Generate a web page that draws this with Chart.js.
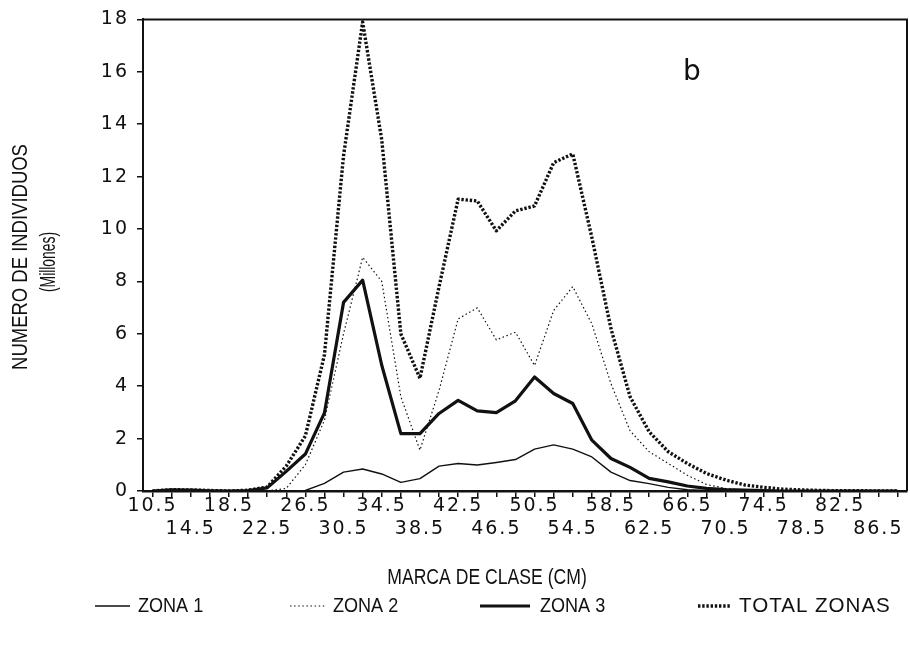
<!DOCTYPE html>
<html>
<head>
<meta charset="utf-8">
<script src="https://cdn.jsdelivr.net/npm/chart.js@4.4.1/dist/chart.umd.min.js"></script>
<style>
  html, body { margin: 0; padding: 0; background: #fff; }
  #wrap { position: relative; width: 910px; height: 645px; }
</style>
</head>
<body>
<div id="wrap"><canvas id="c" width="910" height="645"></canvas></div>
<script>
// Size classes (cm)
const classes = [10.5, 12.5, 14.5, 16.5, 18.5, 20.5, 22.5, 24.5, 26.5, 28.5,
                 30.5, 32.5, 34.5, 36.5, 38.5, 40.5, 42.5, 44.5, 46.5, 48.5,
                 50.5, 52.5, 54.5, 56.5, 58.5, 60.5, 62.5, 64.5, 66.5, 68.5,
                 70.5, 72.5, 74.5, 76.5, 78.5, 80.5, 82.5, 84.5, 86.5, 88.5];

// Number of individuals (millions) per class
const zona1 = [0, 0, 0, 0, 0, 0, 0, 0, 0.02, 0.29,
               0.72, 0.84, 0.65, 0.33, 0.47, 0.95, 1.05, 0.99, 1.09, 1.2,
               1.6, 1.76, 1.6, 1.3, 0.72, 0.4, 0.28, 0.14, 0.05, 0.02,
               0, 0, 0, 0, 0, 0, 0, 0, 0, 0];
const zona2 = [0, 0, 0, 0, 0, 0, 0, 0.1, 1.0, 2.7,
               6.0, 8.92, 8.0, 3.6, 1.56, 3.84, 6.57, 6.99, 5.77, 6.06,
               4.79, 6.89, 7.8, 6.38, 4.1, 2.3, 1.5, 1.05, 0.6, 0.25,
               0.1, 0.04, 0, 0, 0, 0, 0, 0, 0, 0];
const zona3 = [0, 0.04, 0.03, 0.01, 0, 0.02, 0.12, 0.75, 1.41, 2.98,
               7.2, 8.05, 4.8, 2.19, 2.19, 2.96, 3.46, 3.06, 2.99, 3.44,
               4.35, 3.72, 3.34, 1.94, 1.24, 0.9, 0.48, 0.35, 0.19, 0.1,
               0.05, 0.03, 0.02, 0, 0, 0, 0, 0, 0, 0];
const totalZonas = [0, 0.05, 0.04, 0.02, 0, 0.03, 0.15, 0.95, 2.1, 5.2,
                    12.8, 17.9, 13.4, 6.0, 4.3, 7.8, 11.14, 11.07, 9.93, 10.69,
                    10.88, 12.53, 12.87, 9.68, 6.2, 3.6, 2.26, 1.5, 1.05, 0.67,
                    0.42, 0.23, 0.14, 0.07, 0.04, 0.02, 0.01, 0.01, 0, 0];

const yTicks = [0, 2, 4, 6, 8, 10, 12, 14, 16, 18];

const seriesNames = ['ZONA 1', 'ZONA 2', 'ZONA 3', 'TOTAL ZONAS'];
const INK = '#111';

const styles = [
  { borderWidth: 1.4, borderDash: [] },
  { borderWidth: 1.2, borderDash: [1.5, 2.6] },
  { borderWidth: 3.2, borderDash: [] },
  { borderWidth: 3.4, borderDash: [2.4, 1.8] }
];

const seriesData = [zona1, zona2, zona3, totalZonas];

const datasets = seriesData.map((d, i) => ({
  label: seriesNames[i],
  data: d,
  borderColor: INK,
  backgroundColor: INK,
  borderWidth: styles[i].borderWidth,
  borderDash: styles[i].borderDash,
  borderCapStyle: 'butt',
  borderJoinStyle: 'round',
  pointRadius: 0,
  tension: 0,
  fill: false
}));

const TITLE_FONT = '"Liberation Sans", Arial, sans-serif';

// Draws text with a horizontal squeeze k and optional letter spacing
function condensedText(ctx, text, x, y, size, k, spacing, align) {
  ctx.save();
  ctx.font = size + 'px ' + TITLE_FONT;
  ctx.textBaseline = 'middle';
  ctx.letterSpacing = (spacing || 0) + 'px';
  ctx.translate(x, y);
  ctx.scale(k, 1);
  ctx.textAlign = align || 'center';
  ctx.fillStyle = INK;
  ctx.fillText(text, 0, 0);
  ctx.restore();
}

const decor = {
  id: 'decor',
  beforeDraw(chart) {
    chart.ctx.letterSpacing = '2px';
  },
  beforeDatasetsDraw(chart) {
    chart.ctx.letterSpacing = '0px';
  },
  afterDraw(chart) {
    const ctx = chart.ctx;
    const a = chart.chartArea;
    ctx.save();
    ctx.letterSpacing = '0px';
    // frame: top and right edges
    ctx.strokeStyle = INK;
    ctx.lineWidth = 2;
    ctx.beginPath();
    ctx.moveTo(a.left, a.top);
    ctx.lineTo(a.right, a.top);
    ctx.lineTo(a.right, a.bottom);
    ctx.stroke();

    // panel letter
    ctx.font = '28px "DejaVu Sans", sans-serif';
    ctx.fillStyle = INK;
    ctx.textAlign = 'center';
    ctx.textBaseline = 'middle';
    ctx.fillText('b', 692, 73);

    // y axis title (rotated)
    ctx.save();
    ctx.translate(21, 257);
    ctx.rotate(-Math.PI / 2);
    condensedText(ctx, 'NUMERO DE INDIVIDUOS', 0, 0, 22, 0.84);
    ctx.restore();
    ctx.save();
    ctx.translate(49, 262);
    ctx.rotate(-Math.PI / 2);
    condensedText(ctx, '(Millones)', 0, 0, 22, 0.63);
    ctx.restore();

    // x axis title
    condensedText(ctx, 'MARCA DE CLASE (CM)', 487, 578, 22, 0.8);

    // legend
    const leg = [
      { x0: 95, x1: 130, tx: 138, k: 0.86, s: 0 },
      { x0: 290, x1: 325, tx: 333, k: 0.86, s: 0 },
      { x0: 480, x1: 530, tx: 540, k: 0.86, s: 0 },
      { x0: 698, x1: 731, tx: 739, k: 0.98, s: 1 }
    ];
    const ly = 606;
    leg.forEach((l, i) => {
      ctx.save();
      ctx.strokeStyle = INK;
      ctx.lineWidth = styles[i].borderWidth;
      ctx.setLineDash(styles[i].borderDash);
      ctx.beginPath();
      ctx.moveTo(l.x0, ly);
      ctx.lineTo(l.x1, ly);
      ctx.stroke();
      ctx.restore();
      condensedText(ctx, seriesNames[i], l.tx, ly, 21, l.k, l.s, 'left');
    });
    ctx.restore();
  }
};

new Chart(document.getElementById('c'), {
  type: 'line',
  data: { labels: classes, datasets },
  options: {
    responsive: false,
    animation: false,
    devicePixelRatio: 1,
    layout: { padding: { left: 0, right: 3, top: 18, bottom: 0 } },
    plugins: { legend: { display: false }, tooltip: { enabled: false } },
    scales: {
      x: {
        type: 'category',
        offset: true,
        grid: { offset: false, drawOnChartArea: false, drawTicks: true, tickLength: 6, color: INK, lineWidth: 1.5 },
        border: { display: true, color: INK, width: 2.5 },
        ticks: {
          autoSkip: false,
          maxRotation: 0,
          minRotation: 0,
          padding: -3,
          color: INK,
          font: { family: '"DejaVu Sans", sans-serif', size: 19, lineHeight: 1.22 },
          callback: function (v, i) {
            const lab = String(classes[i]);
            if (i % 4 === 0) return [lab, ''];
            if (i % 4 === 2) return ['', lab];
            return '';
          }
        },
        afterFit(scale) { scale.height = 645 - 491; }
      },
      y: {
        min: 0,
        max: 18,
        afterBuildTicks(scale) { scale.ticks = yTicks.map(v => ({ value: v })); },
        grid: { drawOnChartArea: false, drawTicks: true, tickLength: 6, color: INK, lineWidth: 1.5 },
        border: { display: true, color: INK, width: 2 },
        ticks: {
          padding: 8,
          color: INK,
          font: { family: '"DejaVu Sans", sans-serif', size: 19 }
        },
        afterFit(scale) { scale.width = 143; }
      }
    }
  },
  plugins: [decor]
});
</script>
</body>
</html>
